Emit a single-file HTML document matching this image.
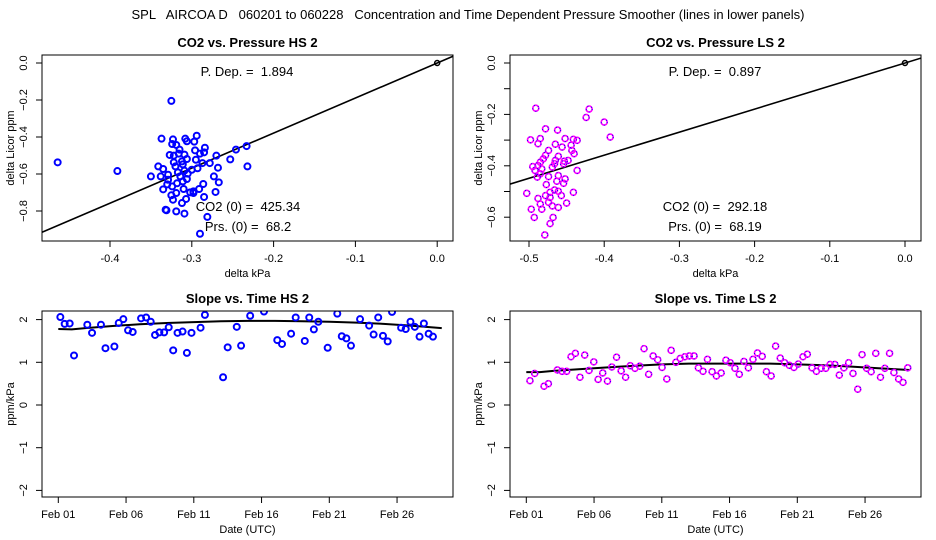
<!DOCTYPE html>
<html><head><meta charset="utf-8"><style>
html,body{margin:0;padding:0;background:#fff}
svg{display:block;font-family:"Liberation Sans",sans-serif}
.pre{white-space:pre}
</style></head><body>
<svg id="c" width="936" height="540" viewBox="0 0 936 540" xmlns="http://www.w3.org/2000/svg">
<text class="pre" x="468" y="19" font-size="13" text-anchor="middle">SPL   AIRCOA D   060201 to 060228   Concentration and Time Dependent Pressure Smoother (lines in lower panels)</text>
</svg>
<script>
// ---- data ----
const hsPx=[-0.464,-0.391,-0.325,-0.350,-0.337,-0.323,-0.308,-0.294,-0.297,-0.284,-0.319,-0.324,-0.306,-0.327,-0.316,-0.309,-0.296,-0.290,-0.285,-0.270,-0.253,-0.246,-0.233,-0.232,-0.268,-0.278,-0.287,-0.295,-0.293,-0.306,-0.311,-0.322,-0.320,-0.341,-0.335,-0.338,-0.329,-0.314,-0.306,-0.309,-0.300,-0.273,-0.267,-0.286,-0.291,-0.271,-0.285,-0.298,-0.302,-0.310,-0.318,-0.324,-0.330,-0.335,-0.325,-0.319,-0.323,-0.312,-0.307,-0.332,-0.319,-0.309,-0.281,-0.290,-0.317,-0.311,-0.305,-0.329,-0.322,-0.312,-0.315,-0.298,-0.331];
const hsPy=[-0.537,-0.584,-0.205,-0.613,-0.409,-0.413,-0.409,-0.393,-0.425,-0.458,-0.443,-0.438,-0.423,-0.497,-0.490,-0.495,-0.472,-0.490,-0.483,-0.501,-0.521,-0.468,-0.449,-0.559,-0.566,-0.541,-0.541,-0.523,-0.569,-0.519,-0.548,-0.537,-0.559,-0.559,-0.573,-0.613,-0.604,-0.613,-0.627,-0.582,-0.577,-0.613,-0.645,-0.654,-0.681,-0.697,-0.724,-0.703,-0.699,-0.681,-0.650,-0.667,-0.656,-0.683,-0.715,-0.703,-0.739,-0.757,-0.735,-0.793,-0.802,-0.814,-0.832,-0.923,-0.591,-0.640,-0.598,-0.631,-0.501,-0.532,-0.468,-0.694,-0.796];
const lsPx=[-0.491,-0.420,-0.424,-0.400,-0.392,-0.478,-0.462,-0.498,-0.488,-0.485,-0.465,-0.456,-0.452,-0.441,-0.436,-0.444,-0.443,-0.440,-0.436,-0.441,-0.474,-0.478,-0.481,-0.485,-0.488,-0.495,-0.492,-0.489,-0.485,-0.483,-0.474,-0.469,-0.465,-0.461,-0.466,-0.453,-0.448,-0.454,-0.461,-0.452,-0.454,-0.463,-0.477,-0.466,-0.461,-0.457,-0.472,-0.478,-0.474,-0.469,-0.461,-0.450,-0.488,-0.485,-0.483,-0.497,-0.503,-0.493,-0.468,-0.472,-0.479,-0.472];
const lsPy=[-0.176,-0.179,-0.212,-0.230,-0.288,-0.256,-0.261,-0.299,-0.314,-0.294,-0.316,-0.327,-0.294,-0.297,-0.301,-0.320,-0.340,-0.353,-0.418,-0.503,-0.340,-0.359,-0.373,-0.386,-0.399,-0.403,-0.418,-0.444,-0.431,-0.412,-0.442,-0.405,-0.379,-0.363,-0.392,-0.382,-0.379,-0.392,-0.438,-0.451,-0.468,-0.460,-0.473,-0.494,-0.499,-0.516,-0.503,-0.516,-0.542,-0.556,-0.562,-0.545,-0.527,-0.549,-0.569,-0.569,-0.507,-0.601,-0.601,-0.625,-0.669,-0.523];
const hsSlope=1.894, lsSlope=0.897;
const hsDays=[0.15,0.47,0.84,1.16,2.14,2.49,3.15,3.48,4.14,4.46,4.80,5.15,5.49,6.11,6.48,6.82,7.14,7.46,7.81,8.15,8.48,8.80,9.17,9.49,9.83,10.50,10.82,12.16,12.50,13.17,13.49,14.16,15.18,16.16,16.51,17.18,17.52,18.19,18.52,18.86,19.19,19.88,20.59,20.92,21.26,21.60,22.27,22.94,23.27,23.61,23.96,24.31,24.63,25.30,25.64,25.99,26.31,26.66,26.98,27.33,27.65];
const hsSl=[2.06,1.90,1.91,1.16,1.88,1.69,1.88,1.33,1.37,1.92,2.01,1.75,1.71,2.03,2.05,1.95,1.64,1.70,1.70,1.82,1.28,1.69,1.72,1.22,1.69,1.81,2.11,0.65,1.35,1.83,1.39,2.09,2.19,1.52,1.43,1.67,2.05,1.50,2.05,1.77,1.95,1.34,2.14,1.61,1.56,1.39,2.01,1.86,1.65,2.05,1.62,1.49,2.18,1.81,1.78,1.95,1.83,1.60,1.91,1.67,1.60];
const lsDays=[0.27,0.62,1.31,1.63,2.29,2.64,2.98,3.30,3.62,3.96,4.31,4.63,4.98,5.30,5.64,5.99,6.31,6.66,7.00,7.33,7.67,8.02,8.37,8.69,9.03,9.36,9.70,10.02,10.37,10.69,11.04,11.36,11.70,12.03,12.38,12.70,13.04,13.37,13.71,14.03,14.38,14.73,15.05,15.40,15.72,16.06,16.39,16.73,17.06,17.41,17.72,18.07,18.40,18.74,19.06,19.41,19.75,20.07,20.42,20.74,21.09,21.41,21.76,22.10,22.42,22.77,23.10,23.44,23.79,24.11,24.46,24.78,25.12,25.45,25.79,26.14,26.46,26.81,27.13,27.48,27.80,28.15];
const lsSl=[0.57,0.74,0.44,0.50,0.82,0.79,0.79,1.13,1.21,0.65,1.17,0.81,1.01,0.60,0.75,0.56,0.89,1.12,0.80,0.65,0.92,0.86,0.91,1.32,0.72,1.15,1.06,0.88,0.61,1.28,1.00,1.09,1.13,1.15,1.15,0.87,0.79,1.07,0.78,0.68,0.75,1.05,0.99,0.86,0.72,1.02,0.87,1.07,1.22,1.14,0.78,0.68,1.38,1.10,0.99,0.93,0.88,0.96,1.13,1.19,0.87,0.79,0.86,0.86,0.95,0.95,0.70,0.87,0.99,0.74,0.37,1.18,0.86,0.78,1.21,0.65,0.86,1.21,0.76,0.61,0.53,0.87];
const smDays=[0,1,2,4,6,8,10,12,14,16,18,20,22,24,26,28.3];
const hsSmooth=[1.78,1.77,1.80,1.85,1.89,1.92,1.94,1.96,1.97,1.97,1.96,1.95,1.93,1.90,1.86,1.80];
const lsSmooth=[0.77,0.77,0.80,0.84,0.88,0.92,0.95,0.97,0.97,0.97,0.97,0.95,0.93,0.90,0.86,0.82];
const dateTicks=[0,5,10,15,20,25];
const dateLabels=["Feb 01","Feb 06","Feb 11","Feb 16","Feb 21","Feb 26"];
const slopeTicks=[2,1,0,-1,-2];
const hsXTicks=[-0.4,-0.3,-0.2,-0.1,0.0], hsYTicks=[0,-0.2,-0.4,-0.6,-0.8];
const lsXTicks=[-0.5,-0.4,-0.3,-0.2,-0.1,0.0], lsYTicks=[0,-0.2,-0.4,-0.6];
const lsYMinor=[-0.1,-0.3,-0.5];

const svg=document.getElementById('c');
const NS='http://www.w3.org/2000/svg';
function mk(tag,attrs,parent){const e=document.createElementNS(NS,tag);for(const k in attrs)e.setAttribute(k,attrs[k]);(parent||svg).appendChild(e);return e;}
function txt(s,attrs,parent){const e=mk('text',attrs,parent);e.textContent=s;return e;}

function panel(o){
  const g=mk('g',{});
  
  
  const L=o.x0,R=o.x1,T=o.y0,B=o.y1;
  const sx=v=>L+(v-o.xmin)/(o.xmax-o.xmin)*(R-L);
  const sy=v=>B-(v-o.ymin)/(o.ymax-o.ymin)*(B-T);
  const t=txt(o.title,{x:(L+R)/2,y:T-8,'font-size':13,'font-weight':'bold','text-anchor':'middle'},g);
  
  
  const cid='clip'+o.id;
  const cp=mk('clipPath',{id:cid},g);mk('rect',{x:L,y:T,width:R-L,height:B-T},cp);
  const plot=mk('g',{'clip-path':'url(#'+cid+')'},g);
  if(o.slope!==undefined){
    const l=mk('line',{x1:sx(o.xmin),y1:sy(o.slope*o.xmin),x2:sx(o.xmax),y2:sy(o.slope*o.xmax),stroke:'#000','stroke-width':1.6},plot);
    
    
    const oc=mk('circle',{cx:sx(0),cy:sy(0),r:2.5,fill:'none',stroke:'#000','stroke-width':1.5},plot);
    
    
  }
  if(o.lx){
    const pts=o.lx.map((d,i)=>sx(d)+','+sy(o.ly[i])).join(' ');
    const pl=mk('polyline',{points:pts,fill:'none',stroke:'#000','stroke-width':2},plot);
    
    
  }
  o.px.forEach((xv,i)=>{
    const c=mk('circle',{cx:sx(xv),cy:sy(o.py[i]),r:3,fill:'none',stroke:o.color,'stroke-width':o.ls?1.6:2},plot);
    
    
    if(o.ls){mk('circle',{cx:sx(xv),cy:sy(o.py[i]),r:3,fill:'none',stroke:'#0000ff','stroke-width':1,'stroke-dasharray':'1 3'},plot);}
  });
  const bx=mk('rect',{x:L,y:T,width:R-L,height:B-T,fill:'none',stroke:'#000','stroke-width':1},g);
  
  
  o.xt.forEach((v,i)=>{
    const X=sx(v);
    mk('line',{x1:X,y1:B,x2:X,y2:B+6,stroke:'#000'},g);
    const tl=txt(o.xl?o.xl[i]:v.toFixed(1),{x:X,y:B+21,'font-size':11,'text-anchor':'middle'},g);
    
    
  });
  o.yt.forEach(v=>{
    const Y=sy(v);
    mk('line',{x1:L-6,y1:Y,x2:L,y2:Y,stroke:'#000'},g);
    const s=o.yfmt?o.yfmt(v):String(v);
    const tl=txt(s.replace('-','\u2212'),{x:0,y:0,'font-size':11,'text-anchor':'middle',transform:'translate('+(L-15)+','+Y+') rotate(-90)'},g);
    
    
  });
  (o.ym||[]).forEach(v=>{const Y=sy(v);mk('line',{x1:L-6,y1:Y,x2:L,y2:Y,stroke:'#000'},g);});
  const xa=txt(o.xtitle,{x:(L+R)/2,y:B+36,'font-size':11,'text-anchor':'middle'},g);
  
  
  const ya=txt(o.ytitle,{x:0,y:0,'font-size':11,'text-anchor':'middle',transform:'translate('+(L-28)+','+((T+B)/2)+') rotate(-90)'},g);
  
  
  (o.notes||[]).forEach(n=>{
    const a=txt(n[0],{x:n[1],y:n[2],'font-size':13,'text-anchor':'middle','class':'pre'},g);
    
    
  });
}
const f1=v=>v.toFixed(1);
panel({id:1,name:'panel-co2-pressure-hs2',title:'CO2 vs. Pressure HS 2',x0:42,x1:453,y0:55,y1:241,
 xmin:-0.4-68/818,xmax:-0.4+(453-110)/818,ymin:-(241-63)/185,ymax:(63-55)/185,
 px:hsPx,py:hsPy,color:'#0000ff',slope:hsSlope,xt:hsXTicks,yt:hsYTicks,yfmt:f1,
 xtitle:'delta kPa',ytitle:'delta Licor ppm',
 notes:[['P. Dep. =  1.894',247,76],['CO2 (0) =  425.34',248,211],['Prs. (0) =  68.2',248,231]]});
panel({id:2,name:'panel-co2-pressure-ls2',title:'CO2 vs. Pressure LS 2',x0:510,x1:921,y0:55,y1:241,
 xmin:-(905-510)/752,xmax:(921-905)/752,ymin:-(241-63)/257,ymax:(63-55)/257,
 px:lsPx,py:lsPy,color:'#ff00ff',ls:true,slope:lsSlope,xt:lsXTicks,yt:lsYTicks,ym:lsYMinor,yfmt:f1,
 xtitle:'delta kPa',ytitle:'delta Licor ppm',
 notes:[['P. Dep. =  0.897',715,76],['CO2 (0) =  292.18',715,211],['Prs. (0) =  68.19',715,231]]});
const dpp=13.55, yu=42.7;
panel({id:3,name:'panel-slope-time-hs2',title:'Slope vs. Time HS 2',x0:42,x1:453,y0:311,y1:497,
 xmin:-(58.3-42)/dpp,xmax:(453-58.3)/dpp,ymin:-(497-405)/yu,ymax:(405-311)/yu,
 px:hsDays,py:hsSl,color:'#0000ff',lx:smDays,ly:hsSmooth,xt:dateTicks,xl:dateLabels,yt:slopeTicks,
 xtitle:'Date (UTC)',ytitle:'ppm/kPa'});
panel({id:4,name:'panel-slope-time-ls2',title:'Slope vs. Time LS 2',x0:510,x1:921,y0:311,y1:497,
 xmin:-(58.3-42)/dpp,xmax:(453-58.3)/dpp,ymin:-(497-405)/yu,ymax:(405-311)/yu,
 px:lsDays,py:lsSl,color:'#ff00ff',ls:true,lx:smDays,ly:lsSmooth,xt:dateTicks,xl:dateLabels,yt:slopeTicks,
 xtitle:'Date (UTC)',ytitle:'ppm/kPa'});
</script>
</body></html>
